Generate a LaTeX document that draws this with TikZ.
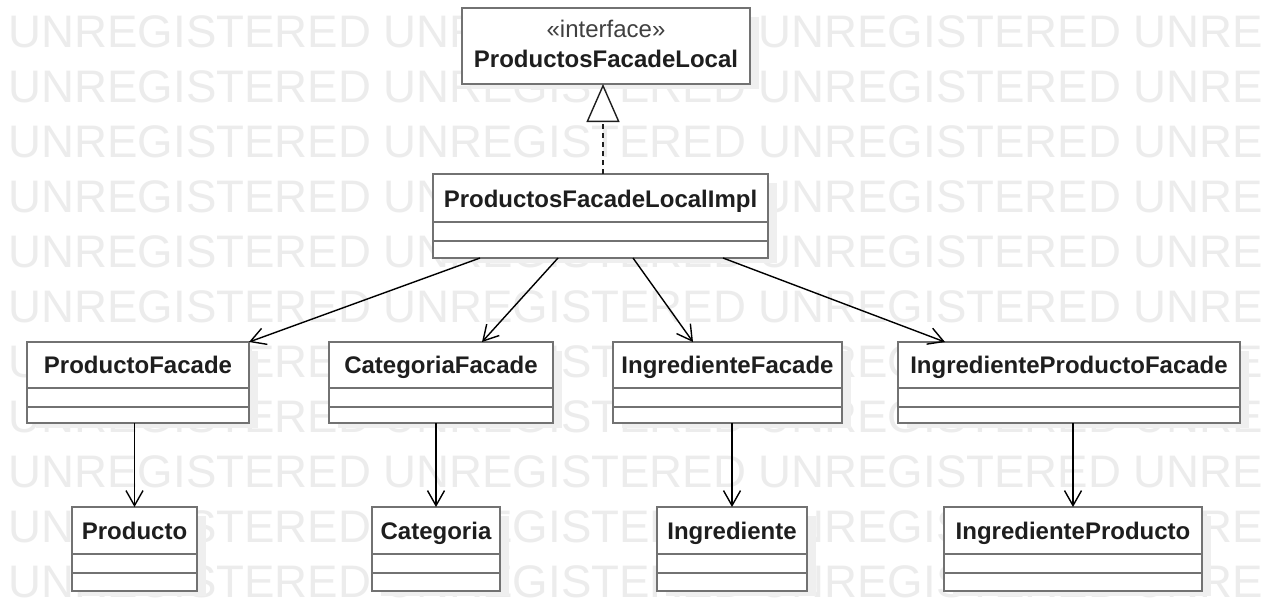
\documentclass[tikz,border=0pt]{standalone}
\usepackage{fontspec}
\setmainfont{Liberation Sans}
\usetikzlibrary{arrows.meta,calc}

\definecolor{wm}{HTML}{ECECEC}
\definecolor{boxline}{HTML}{727272}
\definecolor{dropgray}{HTML}{EFEFEF}
\definecolor{ink}{HTML}{1E1E1E}

\tikzset{
  box/.style={draw=boxline, line width=2.6pt, fill=white, inner sep=0pt, outer sep=0pt},
  compsep/.style={draw=boxline, line width=2.6pt},
  dropshadow/.style={fill=dropgray},
  cname/.style={font={\fontsize{24}{28}\selectfont\bfseries}, text=ink, anchor=base, inner sep=0pt},
  stereo/.style={font={\fontsize{24}{28}\selectfont}, text=ink!85, anchor=base, inner sep=0pt},
  assoc/.style={draw=black, line width=1.4pt,
    -{Straight Barb[length=15pt, width=17pt, line width=1.4pt]}},
  realize/.style={draw=ink, line width=1.4pt, dash pattern=on 5pt off 4pt,
    -{Triangle[fill=white, length=38pt, width=33pt, line width=1.4pt]}},
  watermark/.style={font={\fontsize{45.6}{46}\selectfont}, text=wm, anchor=base west, inner sep=0pt},
}

% class box: name, x1, y1, x2, y2, separator 1, separator 2, text baseline, label
\newcommand\umlclass[9]{%
  \path[dropshadow] (#2+9,#3+9) rectangle (#4+9,#5+5);
  \node[box, minimum width={#4-#2}, minimum height={#5-#3}] (#1) at ({(#2+#4)/2},{(#3+#5)/2}) {};
  \draw[compsep] (#2,#6) -- (#4,#6);
  \draw[compsep] (#2,#7) -- (#4,#7);
  \node[cname] at ({(#2+#4)/2},#8) {#9};
}

\begin{document}
\begin{tikzpicture}[x=1pt, y=-1pt]
  \useasboundingbox (0,0) rectangle (1263,614);
  \fill[white] (0,0) rectangle (1263,614);

  % background lettering
  \begin{scope}
    \clip (0,0) rectangle (1263,614);
    \foreach \r in {0,...,10} {
      \foreach \c in {0,...,3} {
        \node[watermark] at (8.5+375*\c, 47+55*\r) {UNREGISTERED};
      }
    }
  \end{scope}

  % interface
  \path[dropshadow] (471,17) rectangle (759,89);
  \node[box, minimum width=288, minimum height=76] (iface) at (606,46) {};
  \node[stereo] at (606,37) {«interface»};
  \node[cname] at (606,67) {ProductosFacadeLocal};

  % implementation
  \umlclass{impl}{433}{174}{768}{258}{222}{241}{207}{ProductosFacadeLocalImpl}

  % facades
  \umlclass{pf}{27}{342}{249}{423}{388}{407}{373}{ProductoFacade}
  \umlclass{cf}{329}{342}{553}{423}{388}{407}{373}{CategoriaFacade}
  \umlclass{inf}{613}{342}{842}{423}{388}{407}{373}{IngredienteFacade}
  \umlclass{ipf}{898}{342}{1240}{423}{388}{407}{373}{IngredienteProductoFacade}

  % entities
  \umlclass{p}{72}{507}{197}{591}{554}{573}{539}{Producto}
  \umlclass{c}{372}{507}{500}{591}{554}{573}{539}{Categoria}
  \umlclass{i}{657}{507}{807}{591}{554}{573}{539}{Ingrediente}
  \umlclass{ip}{944}{507}{1202}{591}{554}{573}{539}{IngredienteProducto}

  % realization
  \draw[realize] ($(impl.north west)+(170,0)$) -- ($(iface.south west)+(141,0)$);

  % associations from the implementation
  \draw[assoc] ($(impl.south west)+(47,0)$) -- (pf.north east);
  \draw[assoc] ($(impl.south west)+(125,0)$) -- ($(cf.north west)+(153,0)$);
  \draw[assoc] ($(impl.south west)+(200,0)$) -- ($(inf.north west)+(80,0)$);
  \draw[assoc] ($(impl.south west)+(290,0)$) -- ($(ipf.north west)+(47,0)$);

  % associations from facades to entities
  \draw[assoc] (pf.south -| p.north) -- (p.north);
  \draw[assoc] (cf.south -| c.north) -- (c.north);
  \draw[assoc] (inf.south -| i.north) -- (i.north);
  \draw[assoc] (ipf.south -| ip.north) -- (ip.north);
\end{tikzpicture}
\end{document}
